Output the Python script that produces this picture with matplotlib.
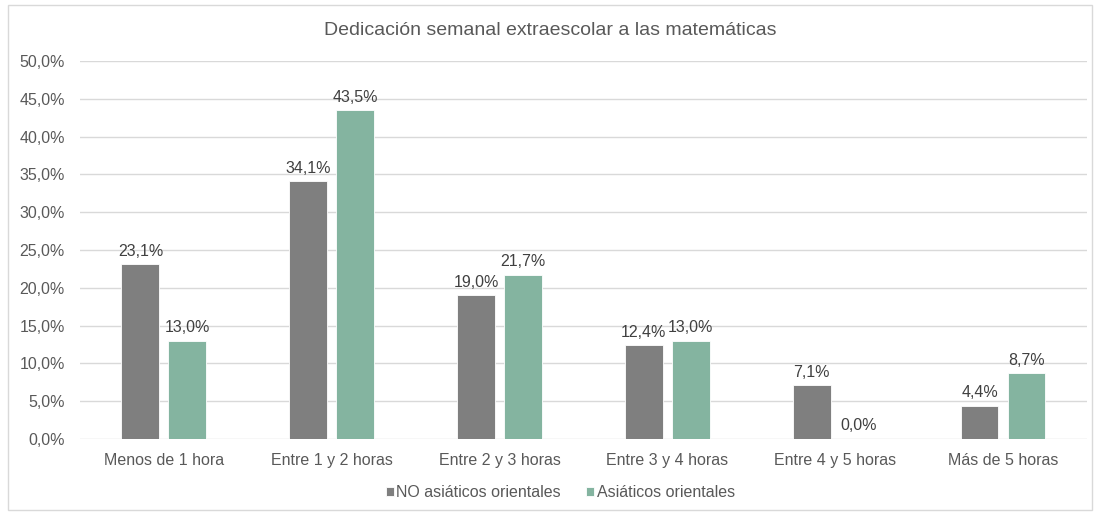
import numpy as np
import matplotlib as mpl
import matplotlib.pyplot as plt
from matplotlib.patches import Rectangle
from matplotlib.ticker import FuncFormatter

mpl.rcParams['font.family'] = ['Liberation Sans', 'DejaVu Sans']

categories = ['Menos de 1 hora', 'Entre 1 y 2 horas', 'Entre 2 y 3 horas',
              'Entre 3 y 4 horas', 'Entre 4 y 5 horas', 'Más de 5 horas']
no_asiaticos = [23.1, 34.1, 19.0, 12.4, 7.1, 4.4]
asiaticos = [13.0, 43.5, 21.7, 13.0, 0.0, 8.7]
series_names = ['NO asiáticos orientales', 'Asiáticos orientales']

text_color = '#595959'
grid_color = '#d9d9d9'


def pct(v):
    return ('%.1f%%' % v).replace('.', ',')


def main():
    fig = plt.figure(figsize=(11.01, 5.13), dpi=100)
    ax = fig.add_axes([0.0727, 0.1442, 0.9145, 0.7369])

    x = np.arange(len(categories))
    w = 0.226
    off = 0.14
    b1 = ax.bar(x - off, no_asiaticos, w, color='#7f7f7f', edgecolor='white',
                linewidth=0.6, label=series_names[0], zorder=3)
    b2 = ax.bar(x + off, asiaticos, w, color='#84b4a0', edgecolor='white',
                linewidth=0.6, label=series_names[1], zorder=3)
    for bars, vals in ((b1, no_asiaticos), (b2, asiaticos)):
        ax.bar_label(bars, labels=[pct(v) for v in vals], padding=4,
                     fontsize=11.5, color='#404040')

    ax.set_xlim(-0.5, len(categories) - 0.5)
    ax.set_ylim(0, 50)
    ax.set_yticks(np.arange(0, 50.1, 5))
    ax.yaxis.set_major_formatter(FuncFormatter(lambda v, p: pct(v)))
    ax.set_xticks(x)
    ax.set_xticklabels(categories)
    ax.tick_params(axis='both', length=0, labelsize=11.5, labelcolor=text_color)
    ax.tick_params(axis='y', pad=11)
    ax.tick_params(axis='x', pad=10)
    ax.grid(axis='y', color=grid_color, linewidth=1.0, zorder=0)
    for s in ax.spines.values():
        s.set_visible(False)

    fig.text(0.5, 0.94, 'Dedicación semanal extraescolar a las matemáticas',
             ha='center', va='center', fontsize=14, color=text_color)

    fig.legend(loc='center', bbox_to_anchor=(0.509, 0.039), ncol=2,
               frameon=False, fontsize=11.5, handlelength=0.5, handleheight=0.5,
               handletextpad=0.15, columnspacing=1.6, labelcolor=text_color)

    fig.patches.append(Rectangle((8 / 1101, 3 / 513), 1084 / 1101, 505 / 513,
                                 transform=fig.transFigure, fill=False,
                                 edgecolor=grid_color, linewidth=1.0))

    fig.savefig('out.png', dpi=100)


if __name__ == '__main__':
    main()
